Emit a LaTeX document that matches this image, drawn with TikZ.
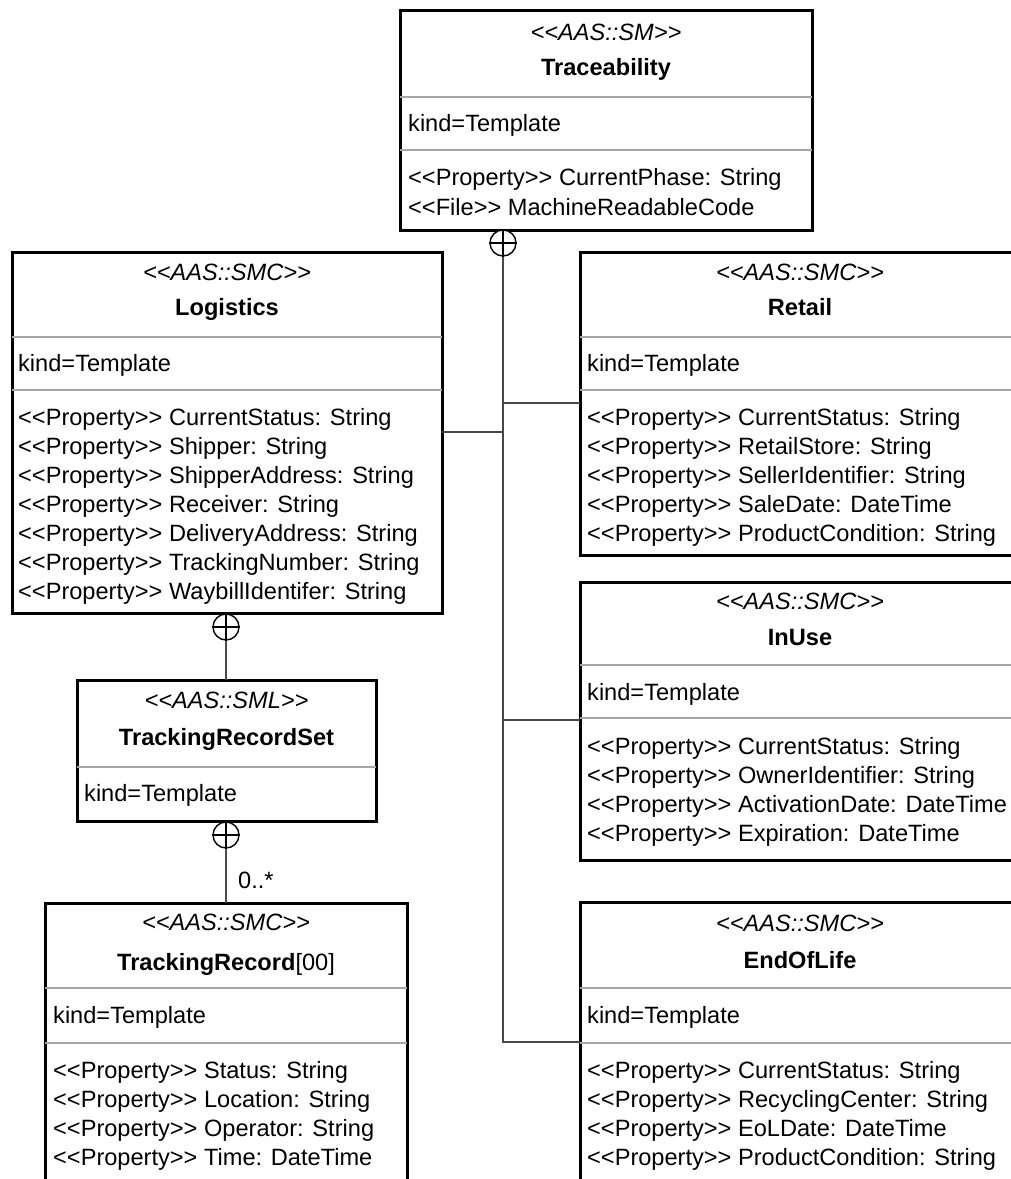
\documentclass[tikz,border=0pt]{standalone}
\usepackage{fontspec}
\setmainfont{Liberation Sans}[Ligatures=TeXOff]
\newcommand\umlfont{\fontsize{23.6}{29}\selectfont}
% class frame: name, left, top, right, bottom
\newcommand\umlframe[5]{%
  \node[classbox, minimum width=#4-#2, minimum height=#5-#3] (#1) at (#2,#3) {};}
\begin{document}
\begin{tikzpicture}[x=1pt,y=-1pt,
  classbox/.style={draw=black, line width=3pt, fill=white, anchor=north west, inner sep=0pt, outer sep=0pt},
  divider/.style={draw=black!35, line width=1.2pt},
  link/.style={draw=black!72, line width=1.6pt},
  comp/.style={circle, draw=black, line width=1.4pt, fill=white, minimum size=26pt, inner sep=0pt},
  stereo/.style={font=\umlfont\itshape, anchor=base, inner sep=0pt},
  title/.style={font=\umlfont\bfseries, anchor=base, inner sep=0pt},
  attr/.style={font=\umlfont, anchor=base west, inner sep=0pt},
]
\path[use as bounding box] (0,0) rectangle (1011,1179);
\clip (0,0) rectangle (1011,1179);

% ---- Traceability (submodel) ----
\umlframe{trace}{400}{10}{812}{230}
\draw[divider] (400,97) -- (812,97);
\draw[divider] (400,150) -- (812,150);
\node[stereo] (traceS) at (606,40) {<<AAS::SM>>};
\node[title] (traceT) at (606,75) {Traceability};
\node[attr] (traceK) at (408,131) {kind=Template};
\node[attr] (traceA1) at (408,185) {<<Property>> CurrentPhase: String};
\node[attr] (traceA2) at (408,215) {<<File>> MachineReadableCode};

% ---- Logistics ----
\umlframe{logi}{12}{252}{442}{613}
\draw[divider] (12,337) -- (442,337);
\draw[divider] (12,390) -- (442,390);
\node[stereo] (logiS) at (227,280) {<<AAS::SMC>>};
\node[title] (logiT) at (227,315) {Logistics};
\node[attr] (logiK) at (18,371) {kind=Template};
\foreach \t [count=\i from 0] in {CurrentStatus: String, Shipper: String,
    ShipperAddress: String, Receiver: String, DeliveryAddress: String,
    TrackingNumber: String, WaybillIdentifer: String}
  \node[attr] (logiA\i) at (18,425+29*\i) {<<Property>> \t};

% ---- TrackingRecordSet ----
\umlframe{trs}{77}{680}{376}{821}
\draw[divider] (77,767) -- (376,767);
\node[stereo] (trsS) at (226.5,708) {<<AAS::SML>>};
\node[title] (trsT) at (226.5,745) {TrackingRecordSet};
\node[attr] (trsK) at (84,801) {kind=Template};

% ---- TrackingRecord[00] ----
\umlframe{trec}{45}{903}{407}{1200}
\draw[divider] (45,988) -- (407,988);
\draw[divider] (45,1043) -- (407,1043);
\node[stereo] (trecS) at (226,930) {<<AAS::SMC>>};
\node[title] (trecT) at (226,970) {TrackingRecord\textmd{[00]}};
\node[attr] (trecK) at (53,1023) {kind=Template};
\foreach \t [count=\i from 0] in {Status: String, Location: String,
    Operator: String, Time: DateTime}
  \node[attr] (trecA\i) at (53,1078+29*\i) {<<Property>> \t};

% ---- Retail ----
\umlframe{retail}{580}{252}{1021}{555}
\draw[divider] (580,337) -- (1021,337);
\draw[divider] (580,390) -- (1021,390);
\node[stereo] (retailS) at (800,280) {<<AAS::SMC>>};
\node[title] (retailT) at (800,315) {Retail};
\node[attr] (retailK) at (587,371) {kind=Template};
\foreach \t [count=\i from 0] in {CurrentStatus: String, RetailStore: String,
    SellerIdentifier: String, SaleDate: DateTime, ProductCondition: String}
  \node[attr] (retailA\i) at (587,425+29*\i) {<<Property>> \t};

% ---- InUse ----
\umlframe{inuse}{580}{582}{1021}{860}
\draw[divider] (580,665) -- (1021,665);
\draw[divider] (580,718) -- (1021,718);
\node[stereo] (inuseS) at (800,609) {<<AAS::SMC>>};
\node[title] (inuseT) at (800,645) {InUse};
\node[attr] (inuseK) at (587,700) {kind=Template};
\foreach \t [count=\i from 0] in {CurrentStatus: String, OwnerIdentifier: String,
    ActivationDate: DateTime, Expiration: DateTime}
  \node[attr] (inuseA\i) at (587,754+29*\i) {<<Property>> \t};

% ---- EndOfLife ----
\umlframe{eol}{580}{902}{1021}{1200}
\draw[divider] (580,988) -- (1021,988);
\draw[divider] (580,1043) -- (1021,1043);
\node[stereo] (eolS) at (800,931) {<<AAS::SMC>>};
\node[title] (eolT) at (800,968) {EndOfLife};
\node[attr] (eolK) at (587,1023) {kind=Template};
\foreach \t [count=\i from 0] in {CurrentStatus: String, RecyclingCenter: String,
    EoLDate: DateTime, ProductCondition: String}
  \node[attr] (eolA\i) at (587,1078+29*\i) {<<Property>> \t};

% ---- composition connectors ----
\coordinate (logiIn) at (442,432);
\coordinate (retailIn) at (580,403);
\coordinate (inuseIn) at (580,720);
\coordinate (eolIn) at (580,1042);

\node[comp] (c1) at (503,243) {};
\node[comp] (c2) at (226,627) {};
\node[comp] (c3) at (226,835) {};
\foreach \c in {c1,c2,c3} {
  \draw[line width=1.4pt] (\c.west) -- (\c.east);
  \draw[line width=1.4pt] (\c.north) -- (\c.south);
}

\draw[link] (c1.south) |- (eolIn);
\draw[link] (c1.south |- logiIn) -- (logiIn);
\draw[link] (c1.south |- retailIn) -- (retailIn);
\draw[link] (c1.south |- inuseIn) -- (inuseIn);
\draw[link] (c2.south) -- (c2.south |- trs.north);
\draw[link] (c3.south) -- (c3.south |- trec.north);
\node[attr] (mult) at (238,888) {0..*};
\end{tikzpicture}
\end{document}
